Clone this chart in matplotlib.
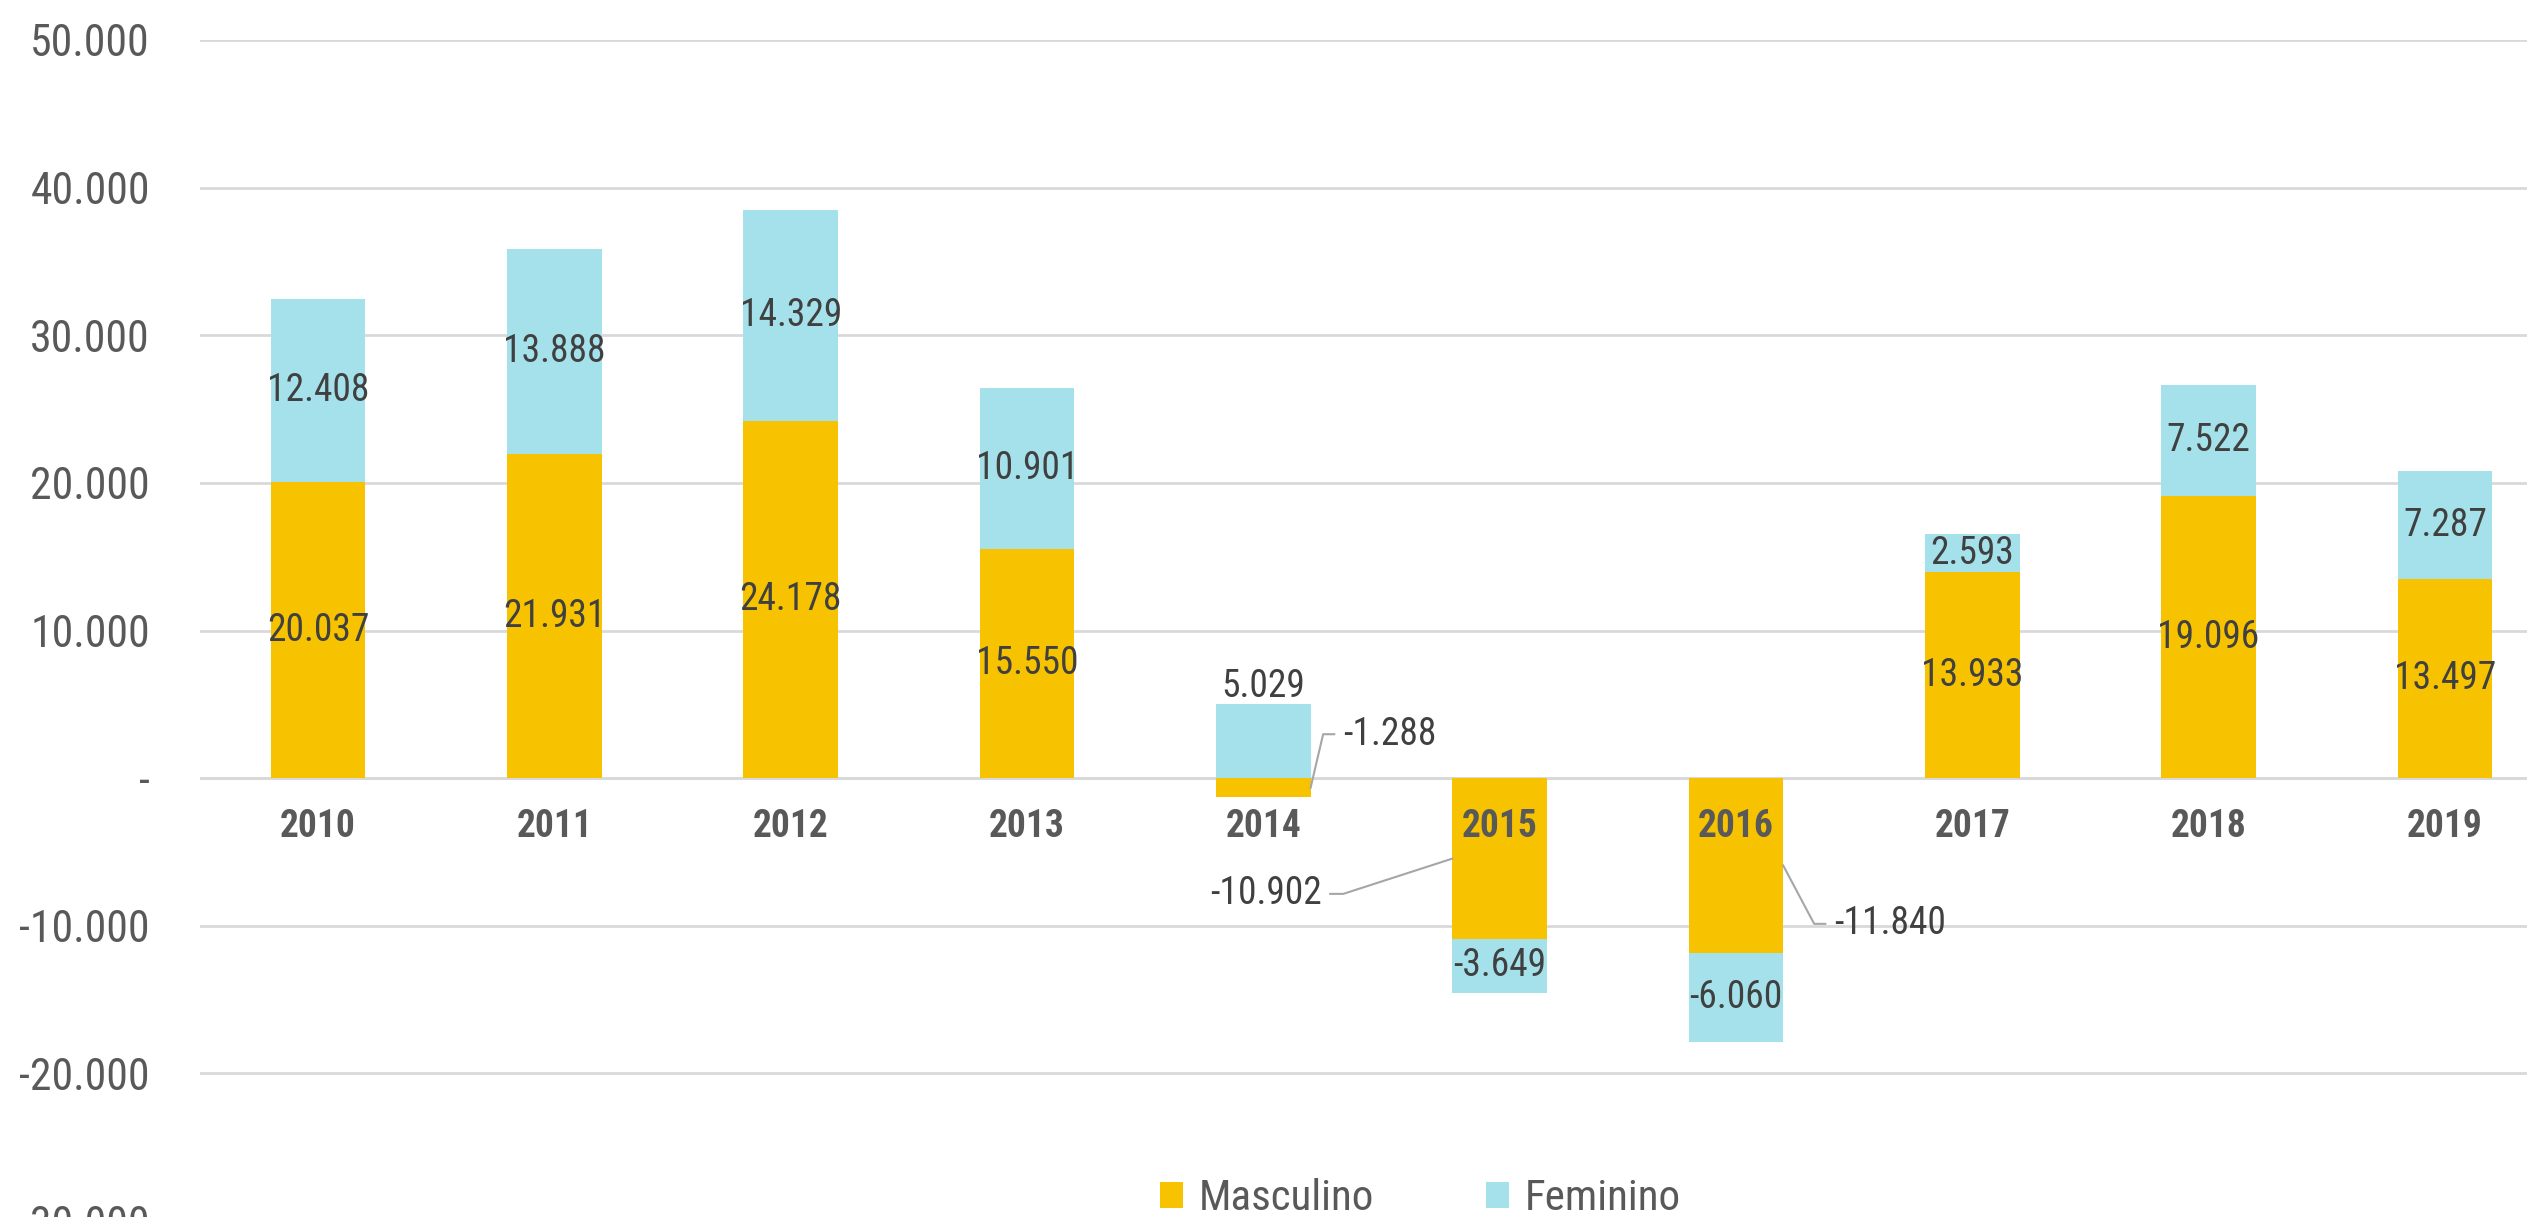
import matplotlib
matplotlib.use("Agg")
import matplotlib.pyplot as plt
from matplotlib import font_manager
import numpy as np

# data
anos = ["2010", "2011", "2012", "2013", "2014", "2015", "2016", "2017", "2018", "2019"]
masculino = [20037, 21931, 24178, 15550, -1288, -10902, -11840, 13933, 19096, 13497]
feminino = [12408, 13888, 14329, 10901, 5029, -3649, -6060, 2593, 7522, 7287]
y_ticks = [-30000, -20000, -10000, 0, 10000, 20000, 30000, 40000, 50000]

COR_M = "#F7C300"
COR_F = "#A5E1EA"
COR_TXT = "#404040"
COR_EIXO = "#595959"
COR_GRID = "#D9D9D9"

# pick a narrow font if one is there
installed = {f.name for f in font_manager.fontManager.ttflist}
fonte = "DejaVu Sans"
for nome in ["Roboto Condensed", "Liberation Sans Narrow", "Roboto"]:
    if nome in installed:
        fonte = nome
        break
plt.rcParams["font.family"] = [fonte, "DejaVu Sans"]


def fmt(v):
    if v == 0:
        return "-"
    return f"{v:,.0f}".replace(",", ".")


W, H = 2527, 1217
fig = plt.figure(figsize=(W / 100, H / 100), dpi=100)
# axes runs a bit past the right and bottom edges, as in the cropped original
ax = fig.add_axes([200 / W, 1 - 1221 / H, 2363 / W, 1181 / H])
ax.set_xlim(-0.5, 9.5)
ax.set_ylim(-30000, 50000)

x = np.arange(len(anos))
m = np.array(masculino)
f = np.array(feminino)
larg = 0.4

# Excel-style stacking: positives and negatives stack separately
base_f = np.where(np.sign(f) == np.sign(m), m, 0)
ax.bar(x, m, width=larg, color=COR_M, zorder=3, label="Masculino")
ax.bar(x, f, width=larg, bottom=base_f, color=COR_F, zorder=3, label="Feminino")

ax.set_yticks(y_ticks)
ax.set_yticklabels([fmt(v) for v in y_ticks])
ax.grid(axis="y", color=COR_GRID, linewidth=2, zorder=0)
ax.set_xticks([])
for s in ax.spines.values():
    s.set_visible(False)
ax.tick_params(axis="y", length=0, pad=36, labelsize=31.5, labelcolor=COR_EIXO)
ax.axhline(0, color=COR_GRID, linewidth=2, zorder=2)

# year labels just under the zero line
for i, a in enumerate(anos):
    ax.text(i, -3250, a, ha="center", va="center", fontsize=27,
            fontweight="bold", color=COR_EIXO, zorder=5)

lbl = dict(fontsize=27, color=COR_TXT, zorder=5)
lead = dict(color="#A6A6A6", linewidth=1.5, zorder=4)
for i in range(len(anos)):
    mi, fi, bf = m[i], f[i], base_f[i]
    if i == 4:
        # small negative male bar, label to the right with leader
        ax.text(i + larg / 2 + 0.138, 2974, fmt(mi), ha="left", va="center", **lbl)
        ax.plot([i + larg / 2, i + larg / 2 + 0.053, i + larg / 2 + 0.10],
                [mi / 2, 2974, 2974], **lead)
        ax.text(i, fi + 1200, fmt(fi), ha="center", va="center", **lbl)
        continue
    if i == 5:
        ax.text(i - larg / 2 - 0.551, -7842, fmt(mi), ha="right", va="center", **lbl)
        ax.plot([i - larg / 2, i - larg / 2 - 0.462, i - larg / 2 - 0.517],
                [mi / 2, -7842, -7842], **lead)
    elif i == 6:
        ax.text(i + larg / 2 + 0.216, -9870, fmt(mi), ha="left", va="center", **lbl)
        ax.plot([i + larg / 2, i + larg / 2 + 0.131, i + larg / 2 + 0.178],
                [mi / 2, -9870, -9870], **lead)
    else:
        ax.text(i, mi / 2, fmt(mi), ha="center", va="center", **lbl)
    ax.text(i, bf + fi / 2, fmt(fi), ha="center", va="center", **lbl)

leg = fig.legend(loc="center", bbox_to_anchor=(1420 / W, 1 - 1199 / H), ncol=2,
                 frameon=False, fontsize=31, handlelength=0.55, handleheight=0.55,
                 handletextpad=0.35, columnspacing=2.6, labelcolor=COR_EIXO)

fig.savefig("out.png", dpi=100, facecolor="white")
